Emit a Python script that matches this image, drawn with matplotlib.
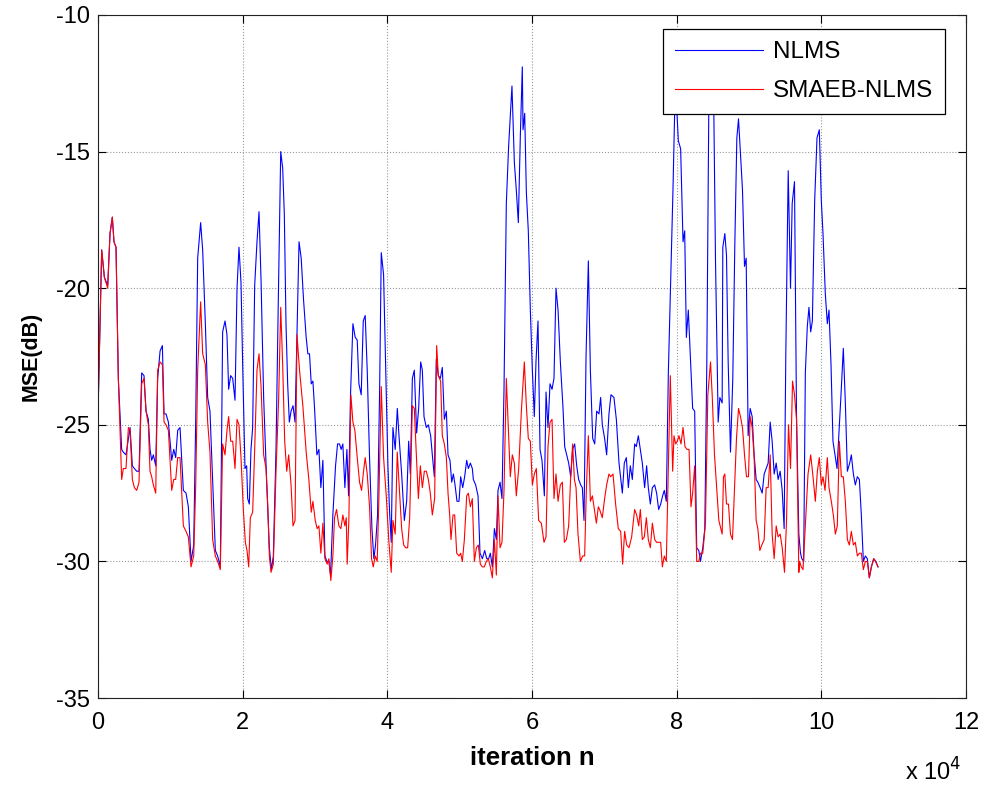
import numpy as np
import matplotlib
matplotlib.use('Agg')
import matplotlib.pyplot as plt
from matplotlib.ticker import FuncFormatter

plt.rcParams['font.family'] = ['Liberation Sans', 'DejaVu Sans']
plt.rcParams['axes.unicode_minus'] = False

# NLMS curve: iteration index and MSE in dB
nlms_n = [
    0, 510, 880, 1340, 1660, 1980, 2210, 2490, 2810, 3270,
    3500, 3870, 4200, 4430, 4750, 5030, 5350, 5670, 6040, 6360,
    6640, 6960, 7190, 7420, 7650, 7980, 8250, 8580, 8900, 9130,
    9400, 9730, 10190, 10470, 10740, 11020, 11340, 11800, 12170, 12490,
    12860, 13230, 13510, 13780, 14190, 14470, 14840, 15160, 15480, 15850,
    16220, 16540, 16910, 17230, 17560, 17830, 18060, 18340, 18620, 18940,
    19220, 19490, 19770, 20000, 20320, 20550, 20690, 20920, 21150, 21380,
    21660, 21980, 22260, 22540, 22900, 23320, 23690, 23970, 24240, 24610,
    24930, 25260, 25530, 25760, 25990, 26220, 26450, 26690, 26960, 27240,
    27510, 27790, 28090, 28410, 28780, 29010, 29240, 29480, 29710, 29940,
    30260, 30540, 30810, 31090, 31370, 31640, 31920, 32150, 32470, 32840,
    33120, 33390, 33620, 33850, 34130, 34410, 34640, 34910, 35240, 35560,
    35840, 36070, 36390, 36670, 36940, 37220, 37540, 37870, 38140, 38370,
    38650, 38930, 39160, 39480, 39760, 40080, 40310, 40540, 40770, 41090,
    41380, 41610, 41980, 42350, 42670, 42950, 43180, 43460, 43730, 44050,
    44330, 44610, 44840, 45070, 45390, 45670, 45990, 46220, 46500, 46770,
    47050, 47330, 47600, 47880, 48160, 48390, 48660, 48900, 49130, 49360,
    49630, 49910, 50140, 50420, 50690, 50970, 51200, 51480, 51750, 51890,
    52210, 52540, 52810, 53140, 53460, 53740, 54010, 54240, 54520, 54800,
    55070, 55300, 55580, 55850, 56130, 56450, 56770, 57230, 57560, 57830,
    58110, 58390, 58660, 58760, 58990, 59220, 59490, 59770, 60050, 60320,
    60550, 60830, 61110, 61380, 61710, 61940, 62210, 62490, 62770, 63040,
    63320, 63600, 63920, 64290, 64520, 64790, 65070, 65350, 65620, 65900,
    66180, 66450, 66730, 66960, 67190, 67470, 67790, 68070, 68390, 68670,
    68940, 69260, 69490, 69720, 70040, 70320, 70640, 70920, 71330, 71660,
    72030, 72490, 72760, 73040, 73320, 73590, 73870, 74190, 74420, 74700,
    74980, 75250, 75570, 75850, 76080, 76360, 76640, 76960, 77230, 77510,
    77790, 78060, 78290, 78570, 78850, 79170, 79490, 79720, 79910, 80230,
    80550, 80880, 81110, 81340, 81610, 81940, 82210, 82490, 82770, 83060,
    83290, 83610, 83890, 84170, 84440, 84720, 85140, 85370, 85740, 85970,
    86290, 86380, 86660, 86890, 87120, 87440, 87760, 88040, 88320, 88550,
    88820, 89100, 89380, 89610, 89880, 90160, 90440, 90710, 90990, 91220,
    91540, 91820, 92100, 92370, 92650, 92930, 93200, 93480, 93760, 94030,
    94310, 94590, 94860, 95090, 95420, 95740, 95970, 96290, 96570, 96890,
    97120, 97300, 97560, 97790, 98060, 98290, 98530, 98760, 99080, 99400,
    99720, 100000, 100230, 100550, 100830, 101060, 101340, 101610, 101890, 102170,
    102440, 102720, 103040, 103320, 103600, 103920, 104150, 104430, 104700, 104980,
    105260, 105530, 105810, 106090, 106360, 106640, 106920, 107240, 107510, 107840,
]
nlms_mse = [
    -24.6, -18.6, -19.6, -19.9, -18.0, -17.4, -18.3, -18.5, -23.3, -25.9,
    -26.0, -26.1, -25.5, -25.1, -26.5, -26.6, -26.7, -26.7, -23.1, -23.2,
    -24.5, -24.8, -25.9, -26.3, -26.1, -26.5, -23.3, -22.3, -22.1, -24.6,
    -24.6, -24.9, -26.3, -25.9, -26.2, -25.2, -25.1, -27.4, -27.5, -28.0,
    -30.0, -29.4, -24.8, -18.9, -17.6, -18.6, -21.3, -24.0, -24.5, -27.1,
    -29.6, -29.8, -30.2, -21.6, -21.2, -21.7, -23.7, -23.2, -23.3, -24.1,
    -20.0, -18.5, -19.8, -22.8, -26.6, -26.5, -27.7, -27.9, -25.9, -25.1,
    -19.9, -18.3, -17.2, -19.7, -24.0, -27.1, -29.5, -30.3, -29.8, -25.9,
    -20.4, -15.0, -15.6, -17.3, -21.3, -23.5, -24.9, -24.5, -24.3, -24.9,
    -21.6, -18.3, -18.9, -20.4, -21.8, -22.4, -22.4, -23.5, -23.4, -24.4,
    -26.1, -25.9, -27.3, -26.3, -29.8, -30.0, -30.0, -30.5, -28.3, -26.5,
    -25.7, -25.7, -25.9, -25.7, -27.3, -25.9, -27.6, -23.9, -21.3, -21.8,
    -21.9, -23.5, -23.9, -21.2, -21.0, -23.0, -26.2, -28.8, -29.9, -29.4,
    -28.3, -23.8, -18.7, -19.5, -22.8, -26.5, -28.2, -29.3, -25.1, -25.9,
    -24.4, -25.4, -26.8, -28.5, -27.8, -25.6, -26.8, -23.3, -23.0, -25.3,
    -24.4, -22.7, -23.0, -24.7, -25.1, -25.0, -25.4, -26.1, -26.9, -22.6,
    -23.2, -23.3, -22.9, -24.8, -24.5, -26.1, -26.3, -27.1, -26.8, -27.2,
    -27.8, -27.8, -26.9, -27.3, -26.9, -26.3, -26.6, -26.4, -26.6, -27.0,
    -27.2, -27.6, -29.7, -29.9, -29.6, -29.9, -29.9, -29.7, -30.2, -28.8,
    -29.2, -27.4, -27.1, -27.7, -23.7, -16.9, -14.8, -12.6, -15.4, -16.4,
    -17.6, -14.4, -11.9, -14.2, -13.6, -16.5, -17.9, -20.8, -23.0, -24.7,
    -22.7, -21.2, -25.9, -26.3, -27.6, -23.8, -25.1, -23.5, -23.7, -23.3,
    -20.0, -20.8, -22.7, -24.4, -25.8, -26.1, -26.4, -26.9, -25.9, -25.7,
    -26.5, -27.0, -27.2, -27.3, -28.5, -22.5, -19.0, -23.0, -25.5, -25.7,
    -24.5, -24.6, -24.0, -25.0, -25.5, -26.1, -24.6, -23.9, -24.0, -24.8,
    -26.4, -27.5, -26.4, -26.2, -27.3, -26.5, -27.0, -25.7, -25.8, -25.4,
    -25.9, -26.4, -27.3, -26.5, -27.3, -27.9, -27.3, -27.2, -27.5, -28.1,
    -27.9, -27.6, -27.4, -27.8, -23.1, -19.7, -16.4, -13.6, -12.9, -14.6,
    -14.9, -18.3, -17.9, -21.8, -20.8, -22.8, -24.4, -24.5, -29.5, -29.6,
    -30.0, -29.5, -28.8, -22.7, -13.5, -12.3, -13.6, -19.0, -24.9, -24.0,
    -24.2, -18.5, -18.0, -18.8, -22.7, -26.0, -23.3, -18.4, -14.5, -13.8,
    -15.1, -16.4, -19.2, -18.9, -25.4, -24.4, -24.7, -26.1, -27.0, -27.1,
    -27.3, -27.5, -26.8, -26.6, -26.4, -24.9, -25.6, -26.8, -26.4, -27.0,
    -26.7, -27.4, -28.8, -22.4, -15.7, -20.0, -16.9, -16.1, -24.7, -29.0,
    -29.7, -29.9, -30.0, -23.1, -21.4, -20.7, -21.6, -21.2, -16.8, -14.5,
    -14.2, -16.8, -18.0, -20.2, -21.3, -20.8, -22.8, -25.6, -26.1, -26.6,
    -25.3, -23.9, -22.2, -24.2, -26.7, -26.4, -26.1, -26.8, -27.2, -26.9,
    -27.0, -28.3, -30.0, -29.8, -29.9, -30.6, -30.2, -29.9, -30.0, -30.2,
]

# SMAEB-NLMS curve
smaeb_n = [
    0, 510, 880, 1340, 1660, 1980, 2210, 2490, 2810, 3270,
    3500, 3870, 4200, 4430, 4750, 5030, 5350, 5670, 6040, 6360,
    6640, 6960, 7190, 7420, 7650, 7980, 8250, 8580, 8900, 9130,
    9400, 9730, 10190, 10470, 10740, 11020, 11340, 11800, 12170, 12490,
    12860, 13230, 13510, 13780, 14190, 14470, 14840, 15160, 15480, 15850,
    16220, 16540, 16910, 17230, 17560, 17830, 18060, 18340, 18620, 18940,
    19220, 19490, 19770, 20090, 20370, 20600, 20830, 21060, 21380, 21660,
    21980, 22260, 22540, 22900, 23230, 23460, 23690, 23920, 24240, 24610,
    24980, 25260, 25530, 25810, 26090, 26360, 26690, 26960, 27240, 27510,
    27860, 28320, 28780, 29150, 29480, 29710, 30030, 30300, 30540, 30810,
    31090, 31370, 31690, 31920, 32190, 32470, 32700, 32980, 33300, 33580,
    33850, 34130, 34320, 34450, 34680, 34960, 35240, 35510, 35840, 36160,
    36440, 36710, 36940, 37220, 37540, 37820, 38050, 38330, 38600, 38830,
    39160, 39480, 39850, 40220, 40540, 40770, 41090, 41370, 41700, 41980,
    42260, 42530, 42810, 43090, 43460, 43730, 44010, 44290, 44560, 44840,
    45120, 45390, 45670, 45940, 46220, 46540, 46820, 47050, 47370, 47600,
    47880, 48160, 48390, 48620, 48800, 49080, 49310, 49590, 49910, 50140,
    50370, 50650, 50970, 51200, 51480, 51750, 52030, 52310, 52580, 52860,
    53140, 53410, 53690, 53970, 54240, 54520, 54800, 55070, 55300, 55580,
    55850, 56130, 56450, 56730, 57000, 57280, 57560, 57830, 58160, 58530,
    58940, 59220, 59490, 59770, 60050, 60320, 60600, 60920, 61290, 61660,
    61940, 62210, 62490, 62770, 63040, 63320, 63600, 63920, 64200, 64470,
    64750, 65070, 65350, 65620, 65860, 66090, 66360, 66690, 67010, 67280,
    67510, 67790, 68070, 68350, 68620, 68900, 69170, 69350, 69720, 70040,
    70320, 70640, 70870, 71200, 71560, 71930, 72260, 72530, 72810, 73090,
    73410, 73780, 74190, 74470, 74750, 74980, 75250, 75530, 75810, 76080,
    76360, 76640, 76960, 77230, 77510, 77790, 78020, 78290, 78570, 78850,
    79120, 79450, 79630, 79860, 80090, 80320, 80600, 80880, 81150, 81430,
    81710, 81980, 82210, 82490, 82770, 83060, 83290, 83610, 83980, 84310,
    84680, 84910, 85230, 85500, 85830, 86100, 86290, 86470, 86660, 86890,
    87160, 87440, 87720, 88040, 88270, 88550, 88820, 89100, 89380, 89650,
    89930, 90160, 90440, 90710, 90990, 91220, 91500, 91770, 92100, 92370,
    92650, 92930, 93200, 93480, 93760, 94030, 94310, 94590, 94910, 95190,
    95460, 95740, 96020, 96290, 96570, 96890, 97000, 97230, 97470, 97830,
    98160, 98530, 98850, 99170, 99450, 99720, 100000, 100230, 100510, 100830,
    101060, 101380, 101660, 101940, 102210, 102490, 102770, 103040, 103320, 103600,
    103870, 104150, 104430, 104700, 104980, 105260, 105530, 105810, 106090, 106360,
    106640, 106920, 107240, 107510, 107840,
]
smaeb_mse = [
    -24.6, -18.6, -19.6, -20.0, -18.0, -17.4, -18.3, -18.5, -23.3, -27.0,
    -26.6, -26.6, -25.1, -25.2, -27.0, -27.3, -27.4, -27.1, -23.5, -23.3,
    -24.5, -25.0, -26.7, -26.9, -27.2, -27.5, -23.0, -22.7, -22.8, -24.9,
    -25.0, -25.2, -27.4, -27.0, -27.0, -26.2, -26.2, -28.7, -28.9, -29.1,
    -30.2, -29.8, -27.2, -23.0, -20.5, -22.4, -22.8, -24.9, -26.0, -29.2,
    -29.8, -30.0, -30.3, -25.7, -26.1, -25.2, -24.7, -25.6, -25.6, -26.6,
    -24.8, -25.0, -26.2, -28.1, -29.3, -29.6, -30.2, -28.4, -28.2, -25.9,
    -23.0, -22.4, -23.6, -26.1, -26.6, -27.9, -29.8, -30.4, -30.1, -26.7,
    -24.0, -20.7, -22.8, -25.6, -26.7, -26.1, -27.2, -28.7, -28.5, -21.7,
    -23.0, -24.3, -26.0, -27.0, -28.2, -27.8, -28.5, -28.8, -28.7, -29.7,
    -28.6, -29.9, -30.1, -29.9, -30.7, -29.8, -28.4, -28.1, -28.7, -28.8,
    -28.3, -28.7, -28.4, -30.1, -28.5, -23.9, -24.9, -25.2, -26.2, -27.1,
    -27.4, -26.7, -26.2, -26.8, -28.0, -29.9, -30.2, -29.8, -30.0, -27.7,
    -23.6, -26.2, -27.6, -29.3, -30.4, -28.5, -29.0, -26.0, -27.5, -28.8,
    -29.4, -29.5, -29.5, -28.4, -24.3, -24.4, -26.1, -27.7, -26.5, -27.3,
    -26.7, -26.7, -27.0, -27.5, -28.3, -27.7, -22.1, -23.2, -23.4, -25.4,
    -25.7, -26.2, -27.5, -28.3, -29.2, -28.3, -28.3, -29.7, -29.8, -29.7,
    -30.0, -29.2, -27.6, -27.5, -28.0, -27.7, -30.0, -29.5, -29.4, -30.1,
    -30.2, -30.2, -30.0, -29.9, -30.2, -30.6, -29.2, -30.5, -27.6, -29.5,
    -29.3, -27.4, -23.3, -25.1, -26.9, -26.1, -26.4, -27.6, -26.6, -24.5,
    -22.7, -24.3, -25.5, -25.6, -27.2, -26.8, -26.6, -28.5, -28.6, -29.3,
    -29.1, -25.8, -24.9, -24.8, -27.7, -26.8, -27.8, -27.2, -27.1, -29.3,
    -29.2, -28.7, -26.9, -25.7, -27.0, -27.3, -29.0, -30.0, -29.8, -29.8,
    -27.4, -25.4, -27.8, -27.6, -28.1, -28.6, -28.0, -28.1, -28.4, -27.7,
    -27.2, -26.8, -26.9, -26.8, -27.9, -28.8, -28.9, -30.1, -28.9, -29.4,
    -29.5, -29.1, -28.1, -28.3, -28.7, -28.1, -29.2, -29.1, -28.4, -29.2,
    -29.5, -28.6, -29.2, -29.3, -29.3, -29.3, -30.2, -29.8, -30.0, -26.6,
    -23.2, -26.7, -25.4, -25.7, -25.6, -25.4, -25.7, -25.1, -25.8, -25.9,
    -25.9, -28.0, -27.5, -26.5, -30.0, -30.0, -29.7, -29.7, -28.6, -23.9,
    -22.7, -23.9, -26.1, -27.2, -28.5, -28.8, -29.0, -26.9, -26.8, -27.9,
    -27.9, -29.0, -29.2, -27.0, -25.5, -24.4, -24.7, -25.1, -26.1, -26.9,
    -26.9, -24.7, -25.1, -26.2, -28.5, -28.8, -29.6, -29.4, -29.2, -27.3,
    -27.3, -26.1, -29.0, -29.9, -28.7, -29.1, -29.0, -29.5, -30.4, -28.5,
    -25.0, -26.6, -23.4, -23.9, -24.8, -30.4, -30.0, -30.2, -30.3, -28.5,
    -26.8, -26.1, -26.9, -27.8, -26.7, -26.2, -27.2, -26.9, -27.4, -26.2,
    -27.3, -27.8, -28.3, -29.0, -28.7, -25.6, -26.9, -26.9, -27.8, -29.2,
    -29.4, -28.9, -29.4, -29.3, -29.8, -29.7, -29.7, -30.3, -30.0, -30.0,
    -30.6, -30.2, -29.9, -30.0, -30.2,
]

x_ticks = [0, 20000, 40000, 60000, 80000, 100000, 120000]
y_ticks = [-35, -30, -25, -20, -15, -10]

fig = plt.figure(figsize=(9.82, 7.85), dpi=100)
ax = fig.add_axes([0.0998, 0.1108, 0.8839, 0.8701])

ax.plot(nlms_n, nlms_mse, color=(0, 0, 1), lw=0.8, label='NLMS')
ax.plot(smaeb_n, smaeb_mse, color=(1, 0, 0), lw=0.8, label='SMAEB-NLMS')

ax.set_xlim(0, 120000)
ax.set_ylim(-35, -10)
ax.set_xticks(x_ticks)
ax.set_yticks(y_ticks)
ax.xaxis.set_major_formatter(FuncFormatter(lambda v, p: '%d' % round(v / 1e4)))
ax.tick_params(direction='in', length=6, width=0.8, labelsize=17,
               top=True, right=True)
ax.tick_params(axis='x', pad=10)
ax.tick_params(axis='y', pad=6)
ax.grid(True, color='#999999', linestyle=':', linewidth=0.8)
for s in ax.spines.values():
    s.set_linewidth(0.8)
    s.set_color('#222222')

ax.set_xlabel('iteration n', fontsize=18.5, fontweight='bold', labelpad=9)
ax.set_ylabel('MSE(dB)', fontsize=15.5, fontweight='bold', labelpad=10)
ax.text(0.995, -0.108, r'x 10$^{4}$', transform=ax.transAxes,
        ha='right', va='center', fontsize=17)

leg = ax.legend(loc='upper right', bbox_to_anchor=(0.9758, 0.9795),
                borderaxespad=0, fontsize=17.5, fancybox=False, framealpha=1,
                edgecolor='black', handlelength=3.6, handletextpad=0.4,
                borderpad=0.5, labelspacing=0.7)
leg.get_frame().set_linewidth(0.9)

fig.savefig('out.png', dpi=100)
